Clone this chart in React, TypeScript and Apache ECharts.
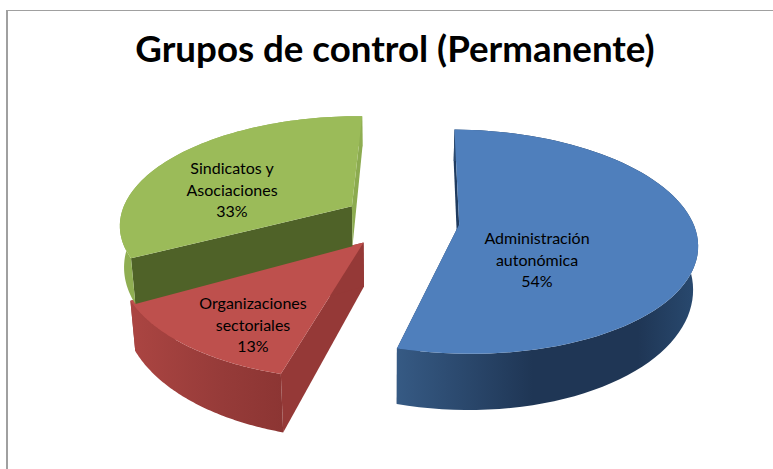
import React, { useEffect, useRef } from "react";
import * as echarts from "echarts";

const categories = ["Administración\nautonómica", "Organizaciones\nsectoriales", "Sindicatos y\nAsociaciones"];
const values = [54, 13, 33];
const percentLabels = ["54%", "13%", "33%"];
const titleText = "Grupos de control (Permanente)";

const topColors = ["#4f7fbc", "#be504d", "#9bbb59"];
const radialColors = [
  ["#1f3b5f", "#1f3b5f"],
  ["#953937", "#953937"],
  ["#4f6228", "#8cab50"],
];
const wallStops: [number, string][][] = [
  [[0, "#365a84"], [0.45, "#1f3655"], [0.8, "#1f3655"], [1, "#294a70"]],
  [[0, "#ab4542"], [0.6, "#963b39"], [1, "#8c3533"]],
  [[0, "#8fae52"], [1, "#8fae52"]],
];
const drawOrder = [2, 1, 3];
const labelAnchors = [[537, 259], [253, 324], [232, 189]];
const sliceShift = [[-1, 0], [6, -1], [6, 1]];

// Perspective model of the pie's top plane
const VX = 398, VY = -486, CX = 0.33, V0 = 1.416, VS = 0.217, EXPLODE = 0.268;
const ROTATION = (1 * Math.PI) / 180;

function project(wx: number, wf: number): [number, number] {
  const y = 1000 / (V0 + VS * wf) + VY;
  const x = VX + CX * wx * (y - VY);
  return [x, y];
}
function lower([x, y]: [number, number]): [number, number] {
  const d = 0.11 * (y + 157);
  return [x - (x - 390) * d * 0.00037, y + d];
}

function renderItem(params: any, api: any) {
  const i = params.dataIndex;
  const total = values.reduce((a, b) => a + b, 0);
  const before = values.slice(0, i).reduce((a, b) => a + b, 0);
  const a0 = ROTATION + (before / total) * Math.PI * 2;
  const a1 = ROTATION + ((before + api.value(0)) / total) * Math.PI * 2;
  const mid = (a0 + a1) / 2;
  const ox = EXPLODE * Math.sin(mid), of = EXPLODE * Math.cos(mid);
  const shifted = ([x, y]: [number, number]): [number, number] => [x + sliceShift[i][0], y + sliceShift[i][1]];
  const rim: [number, number][] = [];
  const steps = 80;
  for (let k = 0; k <= steps; k++) {
    const a = a0 + ((a1 - a0) * k) / steps;
    rim.push(shifted(project(ox + Math.sin(a), of + Math.cos(a))));
  }
  const apex = shifted(project(ox, of));
  const rimLow = rim.map(lower);
  const apexLow = lower(apex);
  const z = drawOrder[i] * 10;
  const first = rim[0], last = rim[steps];
  const children: any[] = [
    {
      type: "polygon", z2: z,
      shape: { points: [first, rimLow[0], apexLow, apex] },
      style: { fill: radialColors[i][0] },
    },
    {
      type: "polygon", z2: z,
      shape: { points: [last, rimLow[steps], apexLow, apex] },
      style: { fill: radialColors[i][1] },
    },
    {
      type: "polygon", z2: z + 1,
      shape: { points: [...rim, ...rimLow.slice().reverse()] },
      style: {
        fill: new echarts.graphic.LinearGradient(0, 0, 1, 0,
          wallStops[i].map(([offset, color]) => ({ offset, color }))),
      },
    },
    {
      type: "polygon", z2: z + 2,
      shape: { points: [apex, ...rim] },
      style: { fill: topColors[i] },
    },
    {
      type: "text", z2: 100,
      style: {
        x: labelAnchors[i][0], y: labelAnchors[i][1],
        text: categories[i] + "\n" + percentLabels[i],
        textAlign: "center", textVerticalAlign: "middle",
        fill: "#000000", fontFamily: "Lato", fontSize: 16, lineHeight: 21.5,
      },
    },
  ];
  return { type: "group", children };
}

export default function App() {
  const ref = useRef<HTMLDivElement>(null);
  useEffect(() => {
    const chart = echarts.init(ref.current!, undefined, { renderer: "svg" });
    chart.setOption({
      animation: false,
      backgroundColor: "#ffffff",
      title: {
        text: titleText, left: 390, top: 24, textAlign: "center",
        textStyle: { fontFamily: "Lato", fontWeight: "bold", fontSize: 36.7, color: "#000000" },
      },
      graphic: [
        { type: "rect", shape: { x: 6, y: 10, width: 2, height: 459 }, style: { fill: "#a0a0a0" } },
        { type: "rect", shape: { x: 6, y: 10, width: 767, height: 1 }, style: { fill: "#a0a0a0" } },
      ],
      series: [
        {
          type: "custom",
          renderItem,
          coordinateSystem: "none",
          data: values.map((v) => [v]),
        },
      ],
    });
    return () => chart.dispose();
  }, []);
  return (
    <div ref={ref} style={{ position: "absolute", left: 0, top: 0, width: 773, height: 469 }} />
  );
}
